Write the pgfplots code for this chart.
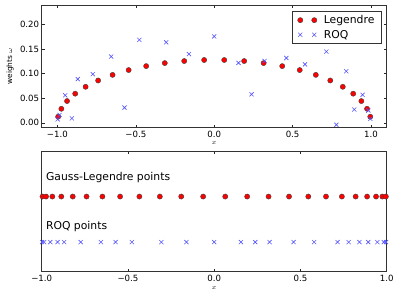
\documentclass[border=0pt]{standalone}
\usepackage{pgfplots}
\usepackage{pgfplotstable}
\pgfplotsset{compat=1.18}
\usepackage{fontspec}
\setmainfont{DejaVu Sans}
\definecolor{roqblue}{RGB}{85,85,255}

\pgfplotstableread{
x w lvl
-0.9951872200 0.0123412298 1
-0.9747285560 0.0285313886 1
-0.9382745520 0.0442774388 1
-0.8864155270 0.0592985849 1
-0.8200019860 0.0733464814 1
-0.7401241916 0.0861901615 1
-0.6480936519 0.0976186521 1
-0.5454214714 0.1074442701 1
-0.4337935076 0.1155056681 1
-0.3150426797 0.1216704729 1
-0.1911188675 0.1258374563 1
-0.0640568929 0.1279381953 1
0.0640568929 0.1279381953 1
0.1911188675 0.1258374563 1
0.3150426797 0.1216704729 1
0.4337935076 0.1155056681 1
0.5454214714 0.1074442701 1
0.6480936519 0.0976186521 1
0.7401241916 0.0861901615 1
0.8200019860 0.0733464814 1
0.8864155270 0.0592985849 1
0.9382745520 0.0442774388 1
0.9747285560 0.0285313886 1
0.9951872200 0.0123412298 1
}\legendre

\pgfplotstableread{
x w lvl
-0.998 0.007 0
-0.986 0.016 0
-0.950 0.056 0
-0.908 0.009 0
-0.870 0.089 0
-0.774 0.099 0
-0.657 0.135 0
-0.572 0.031 0
-0.477 0.169 0
-0.306 0.164 0
-0.161 0.140 0
0.000 0.176 0
0.155 0.122 0
0.238 0.058 0
0.321 0.126 0
0.460 0.132 0
0.579 0.119 0
0.715 0.145 0
0.779 -0.004 0
0.842 0.105 0
0.893 0.027 0
0.946 0.057 0
0.983 0.025 0
0.996 0.008 0
}\roq

\pgfplotsset{
  mystyle/.style={
    scale only axis,
    width=345pt,
    tick align=inside,
    major tick length=3pt,
    tick style={black!85, line width=0.5pt},
    axis line style={black!80, line width=0.8pt},
    ticklabel style={font=\fontsize{8.6}{10}\selectfont},
    xtick={-1,-0.5,0,0.5,1},
    xticklabels={−1.0,−0.5,0.0,0.5,1.0},
    xlabel={$x$},
    xlabel style={font=\fontsize{7}{8}\selectfont, anchor=center},
  },
  legmark/.style={only marks, mark=*, mark size=2.6pt, mark options={fill=red, draw=black!75, line width=0.4pt}},
  roqmark/.style={only marks, mark=x, mark size=2.9pt, color=roqblue, mark options={line width=0.6pt}},
}

\begin{document}
\begin{tikzpicture}
\useasboundingbox (0,0) rectangle (399pt,298pt);

\begin{axis}[mystyle,
  at={(41.7pt,170.3pt)}, anchor=south west,
  height=122.7pt,
  xmin=-1.1, xmax=1.1, ymin=-0.01, ymax=0.24,
  ytick={0,0.05,0.1,0.15,0.2},
  yticklabels={0.00,0.05,0.10,0.15,0.20},
  yticklabel style={xshift=1pt},
  xlabel style={at={(axis description cs:0.5,-0.125)}},
  ylabel={weights $\omega$},
  ylabel style={font=\fontsize{7.4}{9}\selectfont, at={(axis description cs:-0.0919,0.5)}, anchor=center},
  legend style={at={(rel axis cs:0.9855,0.951)}, anchor=north east, draw=black!80, line width=0.6pt,
    font=\fontsize{10.8}{13}\selectfont, row sep=1pt, column sep=5pt, inner xsep=5pt, inner ysep=2pt},
  legend cell align=left,
  legend image code/.code={\draw[#1,only marks] plot coordinates {(0pt,0pt) (14pt,0pt)};},
]
\addplot[legmark] table[x=x,y=w]{\legendre};
\addlegendentry{Legendre}
\addplot[roqmark] table[x=x,y=w]{\roq};
\addlegendentry{ROQ}
\end{axis}

\begin{axis}[mystyle,
  at={(41.7pt,26.3pt)}, anchor=south west,
  height=120.7pt,
  xmin=-1, xmax=1, ymin=-0.65, ymax=2,
  ytick=\empty,
  xlabel style={at={(axis description cs:0.5,-0.135)}},
]
\addplot[legmark] table[x=x,y=lvl]{\legendre};
\addplot[roqmark] table[x=x,y=lvl]{\roq};
\node[anchor=west, inner sep=0pt, font=\fontsize{10.8}{13}\selectfont] at (axis cs:-0.976,1.41) {Gauss-Legendre points};
\node[anchor=west, inner sep=0pt, font=\fontsize{10.8}{13}\selectfont] at (axis cs:-0.976,0.35) {ROQ points};
\end{axis}
\end{tikzpicture}
\end{document}
